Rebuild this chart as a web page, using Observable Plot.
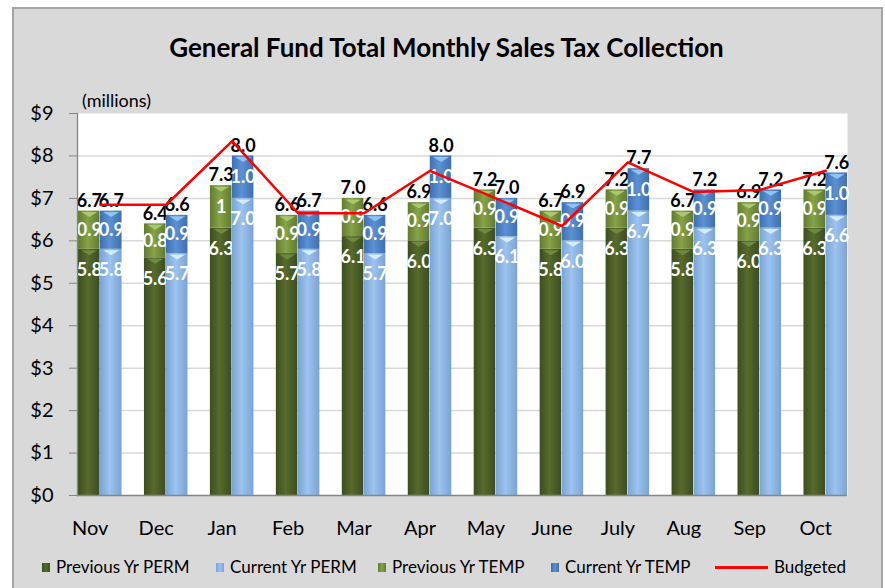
<!DOCTYPE html>
<html><head><meta charset="utf-8">
<script src="https://cdn.jsdelivr.net/npm/d3@7"></script>
<script src="https://cdn.jsdelivr.net/npm/@observablehq/plot@0.6"></script>
<style>
body{margin:0;background:#fff;}
#wrap{position:relative;width:885px;height:588px;overflow:hidden;font-family:Lato,"Open Sans",sans-serif;}
#bg{position:absolute;left:12px;top:7px;width:871px;height:600px;background:#d9d9d9;border:2px solid #a6a6a6;box-sizing:border-box;}
#chart{position:absolute;left:0;top:0;}
#title{position:absolute;left:4px;width:885px;top:31px;text-align:center;font-weight:bold;font-size:26px;color:#000;line-height:32px;}
#units{position:absolute;left:82px;top:89px;font-size:18px;line-height:22px;color:#000;}
.lg{position:absolute;top:557px;font-size:17px;line-height:20px;color:#000;display:flex;align-items:center;}
.sw{width:8px;height:9px;margin-right:6px;}
.ln{width:53px;height:3px;background:#ff0000;margin-right:6px;}
</style>
</head><body>
<div id="wrap">
  <div id="bg"></div>
  <div id="chart"></div>
  <div id="title">General Fund Total Monthly Sales Tax Collection</div>
  <div id="units">(millions)</div>
  <div id="legend"></div>
</div>
<script>
const months = ["Nov","Dec","Jan","Feb","Mar","Apr","May","June","July","Aug","Sep","Oct"];
const prevPerm = [5.8,5.6,6.3,5.7,6.1,6.0,6.3,5.8,6.3,5.8,6.0,6.3];
const prevTemp = [0.9,0.8,1,0.9,0.9,0.9,0.9,0.9,0.9,0.9,0.9,0.9];
const curPerm  = [5.8,5.7,7.0,5.8,5.7,7.0,6.1,6.0,6.7,6.3,6.3,6.6];
const curTemp  = [0.9,0.9,1.0,0.9,0.9,1.0,0.9,0.9,1.0,0.9,0.9,1.0];
const budgeted = [6.85,6.85,8.35,6.65,6.65,7.65,7.0,6.35,7.85,7.15,7.2,7.65];
const yTicks = [0,1,2,3,4,5,6,7,8,9];
const seriesNames = ["Previous Yr PERM","Current Yr PERM","Previous Yr TEMP","Current Yr TEMP","Budgeted"];

const colors = {
  prevPerm: ["#3d4d1e","#566b2c","#3d4d1e"],
  prevTemp: ["#627a30","#86a346","#627a30"],
  curPerm:  ["#7aa3d6","#9dc3ee","#7aa3d6"],
  curTemp:  ["#3f6fb0","#5b91d4","#3f6fb0"]
};
const hi = {prevPerm:"#6e8a3c", prevTemp:"#aac870", curPerm:"#d4ecff", curTemp:"#8cc4f4"};

const prev = months.map((m,i)=>({month:m, perm:prevPerm[i], temp:prevTemp[i], total:prevPerm[i]+prevTemp[i], tempLabel:String(prevTemp[i])}));
const cur  = months.map((m,i)=>({month:m, perm:curPerm[i], temp:curTemp[i], total:curPerm[i]+curTemp[i], tempLabel:curTemp[i].toFixed(1)}));
const budget = months.map((m,i)=>({month:m, value:budgeted[i]}));

const chevron = {draw(ctx, size){ const r = Math.sqrt(size/Math.PI); ctx.moveTo(-r,0); ctx.lineTo(r,0); ctx.lineTo(0,r*0.62); ctx.closePath(); }};

const off = 11, inset = 22;
const segMarks = (data, key, sign) => {
  const left = sign < 0;
  const ins = left ? {insetRight: inset} : {insetLeft: inset};
  const dx = sign*off;
  const kP = key+"Perm", kT = key+"Temp";
  return [
    Plot.barY(data, {x:"month", y1:0, y2:"perm", fill:`url(#g_${kP})`, ...ins}),
    Plot.barY(data, {x:"month", y1:"perm", y2:"total", fill:`url(#g_${kT})`, ...ins}),
    Plot.dot(data, {x:"month", y:"perm", symbol:chevron, r:8, fill:hi[kP], stroke:null, dx, dy:1}),
    Plot.dot(data, {x:"month", y:"total", symbol:chevron, r:8, fill:hi[kT], stroke:null, dx, dy:1}),
    Plot.text(data, {x:"month", y:"perm", text:d=>d.perm.toFixed(1), dx, dy:21, fill:"white", fontWeight:"bold", fontSize:18}),
    Plot.text(data, {x:"month", y:d=>d.perm+d.temp/2, text:"tempLabel", dx, fill:"white", fontWeight:"bold", fontSize:18}),
    Plot.text(data, {x:"month", y:"total", text:d=>d.total.toFixed(1), dx, dy:-10, fill:"black", fontWeight:"bold", fontSize:18})
  ];
};

const plot = Plot.plot({
  width: 885, height: 588,
  marginLeft: 77, marginRight: 38, marginTop: 113, marginBottom: 93,
  style: {background:"transparent", fontFamily:"Lato, 'Open Sans', sans-serif", overflow:"visible"},
  x: {type:"band", domain: months, range:[78,847], paddingInner:0.34, paddingOuter:0, round:false, label:null},
  y: {domain:[0,9], range:[495,113], label:null},
  marks: [
    Plot.frame({fill:"white", stroke:null}),
    Plot.gridY(yTicks.filter(t=>t>0 && t<9), {stroke:"#d9d9d9", strokeOpacity:1, strokeWidth:1.5}),
    ...segMarks(prev, "prev", -1),
    ...segMarks(cur, "cur", 1),
    Plot.line(budget, {x:"month", y:"value", stroke:"#ff0000", strokeWidth:2.5}),
    Plot.frame({anchor:"left", stroke:"#868686", strokeWidth:1.3}),
    Plot.ruleY([0], {stroke:"#868686", strokeWidth:1.5}),
    Plot.axisY({ticks: yTicks, tickFormat: d=>"$"+d, tickSize:8, tickPadding:16, fontSize:20, stroke:"#868686", fill:"#000", label:null}),
    Plot.axisX({tickSize:0, tickPadding:25, fontSize:20, dx:-10, fill:"#000", label:null})
  ]
});

// gradients
const svg = d3.select(plot);
const defs = svg.insert("defs", ":first-child");
for (const [k, c] of Object.entries(colors)) {
  const g = defs.append("linearGradient").attr("id", "g_"+k).attr("x1",0).attr("x2",1).attr("y1",0).attr("y2",0);
  g.append("stop").attr("offset","0%").attr("stop-color", c[0]);
  g.append("stop").attr("offset","45%").attr("stop-color", c[1]);
  g.append("stop").attr("offset","100%").attr("stop-color", c[2]);
}
document.getElementById("chart").appendChild(plot);

// legend
const legendItems = [
  {name: seriesNames[0], key:"prevPerm", left:42},
  {name: seriesNames[1], key:"curPerm", left:216},
  {name: seriesNames[2], key:"prevTemp", left:378},
  {name: seriesNames[3], key:"curTemp", left:551},
  {name: seriesNames[4], key:null, left:715}
];
const lg = document.getElementById("legend");
for (const it of legendItems) {
  const d = document.createElement("div");
  d.className = "lg"; d.style.left = it.left+"px";
  const s = document.createElement("div");
  if (it.key) { s.className = "sw"; s.style.background = `linear-gradient(90deg, ${colors[it.key][0]}, ${colors[it.key][1]}, ${colors[it.key][2]})`; }
  else { s.className = "ln"; }
  d.appendChild(s);
  const t = document.createElement("span"); t.textContent = it.name; d.appendChild(t);
  lg.appendChild(d);
}
</script>
</body></html>
